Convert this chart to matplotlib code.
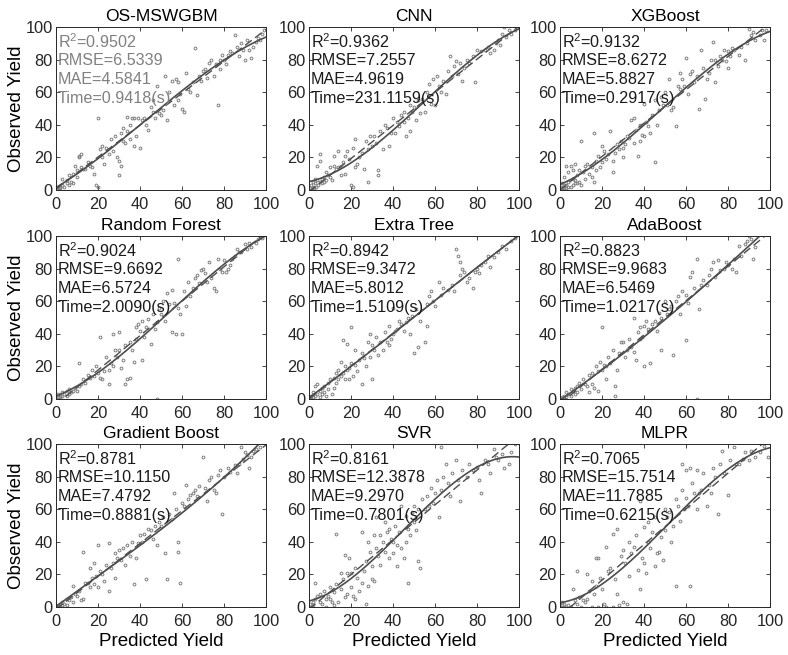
import numpy as np
import matplotlib
matplotlib.use("Agg")
import matplotlib.pyplot as plt

## Шрифты и общие настройки
plt.rcParams['font.family'] = ['Liberation Sans', 'DejaVu Sans']
plt.rcParams['mathtext.fontset'] = 'custom'
plt.rcParams['mathtext.rm'] = 'Liberation Sans'
plt.rcParams['mathtext.it'] = 'Liberation Sans:italic'
plt.rcParams['xtick.direction'] = 'in'
plt.rcParams['ytick.direction'] = 'in'

# model names (panel order)
models = ["OS-MSWGBM", "CNN", "XGBoost",
          "Random Forest", "Extra Tree", "AdaBoost",
          "Gradient Boost", "SVR", "MLPR"]

# metrics shown in each panel
r2 = ["0.9502", "0.9362", "0.9132", "0.9024", "0.8942", "0.8823", "0.8781", "0.8161", "0.7065"]
rmse = ["6.5339", "7.2557", "8.6272", "9.6692", "9.3472", "9.9683", "10.1150", "12.3878", "15.7514"]
mae = ["4.5841", "4.9619", "5.8827", "6.5724", "5.8012", "6.5469", "7.4792", "9.2970", "11.7885"]
times = ["0.9418", "231.1159", "0.2917", "2.0090", "1.5109", "1.0217", "0.8881", "0.7801", "0.6215"]

# (predicted, observed) points
pts_os = [(0.5,0.5),(1,1),(1.5,0),(2,2),(2,1),(3,3),(3,7),(4,2),(5,4),(5,6),(6,3),(6,9),(7,5),(8,10),(8,4),
          (9,15),(10,12),(10,8),(11,21),(11,20),(12,14),(12,22),(13,13),(14,13),(15,17),(16,15),(17,14),(18,10),
          (19,3),(20,2),(20,44),(21,25),(22,20),(22,27),(23,16),(24,26),(25,22),(26,31),(27,24),(28,33),(29,20),
          (30,18),(30,9),(31,15),(31,35),(32,38),(32,30),(33,29),(34,45),(34,36),(35,40),(35,31),(36,44),(37,27),
          (37,44),(38,33),(39,44),(40,26),(41,43),(42,44),(43,40),(44,37),(45,51),(46,55),(46,48),(47,44),(48,64),
          (49,47),(50,46),(51,49),(52,70),(53,43),(54,60),(55,67),(56,52),(57,68),(58,55),(58,66),(59,59),(60,50),
          (61,48),(62,72),(63,62),(64,60),(65,66),(66,87),(67,58),(68,70),(69,67),(70,73),(71,74),(72,69),(73,78),
          (74,80),(75,70),(76,77),(77,52),(78,74),(78,80),(79,83),(80,80),(81,77),(82,83),(83,85),(84,84),(85,95),
          (86,88),(87,82),(88,90),(89,86),(90,80),(91,92),(92,86),(93,81),(94,88),(95,91),(96,93),(97,92),(98,96),(99,98)]
pts_cnn = [(0.5,1),(1,3),(1,0),(1.5,1),(2,5),(2,2),(2.5,1),(3,4),(3,7),(3.5,2),(4,15),(4,6),(4.5,3),(5,22),(5,18),(5,5),
           (6,7),(6,4),(7,5),(7,8),(8,11),(8,6),(9,9),(10,14),(10,8),(11,6),(12,21),(12,15),(13,13),(14,14),(14,24),(15,9),
           (15,15),(16,17),(17,10),(17,21),(18,24),(19,19),(20,3),(21,2),(21,26),(22,31),(22,14),(23,16),(24,20),(25,23),
           (26,13),(27,30),(28,5),(28,25),(29,33),(30,27),(31,33),(32,29),(33,12),(33,9),(34,36),(35,25),(36,40),(37,38),
           (38,27),(39,35),(40,44),(41,35),(42,42),(43,39),(44,46),(45,42),(45,48),(46,33),(47,44),(48,52),(48,36),(49,48),
           (50,51),(51,43),(52,55),(53,47),(54,56),(55,48),(56,60),(57,65),(58,53),(59,68),(60,52),(61,70),(62,64),(63,60),
           (64,67),(65,59),(66,73),(67,82),(68,70),(69,76),(70,79),(71,71),(72,78),(73,67),(74,75),(75,80),(76,78),(78,82),
           (79,66),(80,86),(82,85),(84,86),(85,88),(86,84),(88,86),(89,90),(90,92),(91,89),(92,96),(93,100),(94,94),(95,98),
           (96,96),(98,98)]
pts_xgb = [(0.5,0),(1,2),(1,4),(1,0),(1.5,1),(2,1),(2,8),(2,3),(3,3),(3,15),(3,1),(4,5),(4,11),(4,2),(5,15),(5,2),(6,7),
           (6,12),(6,3),(7,16),(7,4),(7,6),(8,9),(8,4),(9,12),(9,5),(10,30),(10,3),(11,11),(12,15),(12,7),(13,16),(14,10),
           (15,8),(15,14),(16,35),(16,5),(17,18),(17,12),(18,21),(19,14),(20,27),(20,17),(21,24),(22,19),(23,22),(24,36),
           (25,11),(25,18),(26,23),(27,28),(28,25),(29,30),(30,20),(30,26),(31,28),(32,33),(33,32),(34,43),(35,44),(35,29),
           (36,37),(37,21),(38,30),(38,40),(39,34),(40,53),(40,33),(41,42),(42,39),(43,35),(44,46),(45,55),(45,17),(46,40),
           (47,49),(48,57),(49,52),(50,60),(51,52),(52,68),(53,49),(54,51),(55,39),(56,64),(57,62),(57,72),(58,68),(59,64),
           (60,81),(61,59),(62,71),(63,73),(64,66),(65,70),(66,50),(67,86),(68,75),(69,56),(70,68),(71,72),(72,80),(73,91),
           (74,80),(74,66),(75,76),(76,82),(77,80),(78,86),(79,79),(80,85),(80,75),(81,82),(82,87),(83,86),(85,83),(86,88),
           (88,80),(89,90),(90,99),(91,95),(92,97),(93,92),(95,95),(96,98),(97,92),(98,98)]
pts_rf = [(0.5,0),(1,1),(1,3),(2,2),(2,1),(3,4),(3,2),(4,3),(5,5),(5,2),(6,6),(6,3),(7,4),(8,5),(9,7),(10,5),(11,22),(11,8),
          (12,9),(13,12),(14,10),(15,15),(16,13),(17,18),(18,14),(19,20),(20,16),(21,38),(21,13),(22,12),(23,17),(24,26),
          (25,18),(25,9),(26,22),(27,20),(27,40),(28,30),(29,26),(30,41),(30,30),(31,19),(32,24),(33,9),(33,33),(34,12),
          (35,13),(35,35),(36,30),(37,23),(38,44),(38,37),(39,46),(40,42),(41,24),(41,48),(42,38),(43,44),(44,49),(45,34),
          (46,52),(47,43),(48,0),(48,47),(49,56),(50,52),(51,60),(52,48),(53,65),(54,58),(55,67),(55,41),(56,59),(57,40),
          (58,86),(58,56),(59,52),(60,40),(61,66),(62,57),(63,72),(64,63),(65,68),(66,74),(67,76),(68,71),(69,79),(70,80),
          (71,77),(72,72),(73,84),(74,74),(75,68),(76,66),(77,86),(78,80),(79,78),(80,85),(81,78),(82,80),(83,82),(84,86),
          (85,88),(86,92),(87,90),(88,90),(90,95),(91,92),(92,96),(93,93),(95,96),(96,98),(98,99)]
pts_et = [(0.5,0),(1,2),(1,0),(2,1),(2,4),(3,2),(3,8),(4,3),(4,9),(5,5),(5,1),(6,7),(6,3),(7,8),(7,4),(8,2),(9,10),(9,6),
          (10,12),(11,3),(12,13),(12,7),(13,16),(13,10),(14,18),(14,12),(15,23),(15,14),(16,36),(16,16),(17,20),(17,12),
          (18,34),(18,18),(19,19),(19,12),(20,44),(20,22),(21,14),(22,30),(22,21),(23,17),(24,24),(25,28),(25,9),(26,25),
          (27,20),(28,35),(29,40),(29,26),(30,12),(30,33),(31,30),(32,38),(33,27),(34,35),(35,30),(36,41),(37,35),(38,45),
          (38,33),(39,37),(40,56),(40,40),(41,42),(42,43),(43,48),(44,46),(45,42),(46,47),(47,50),(48,40),(49,51),(50,28),
          (51,55),(52,32),(53,48),(55,35),(56,45),(56,58),(57,63),(58,66),(59,60),(60,57),(62,72),(63,64),(64,68),(66,67),
          (68,70),(69,66),(70,92),(71,88),(72,84),(72,76),(73,80),(74,78),(75,72),(76,74),(78,68),(79,78),(80,80),(81,77),
          (82,82),(84,84),(85,88),(86,81),(88,87),(90,90),(92,94),(94,92),(96,97),(98,99)]
pts_ada = [(0.5,0),(1,1),(1,0),(2,2),(2,0),(3,1),(3,4),(4,3),(5,2),(5,6),(6,5),(7,7),(7,3),(8,8),(8,4),(9,10),(10,6),(11,12),
           (12,9),(13,8),(14,15),(14,4),(15,16),(15,9),(16,7),(17,20),(18,5),(18,17),(19,23),(20,44),(20,18),(21,21),(22,20),
           (22,12),(23,26),(24,22),(25,30),(26,2),(26,8),(27,18),(28,28),(29,35),(30,35),(31,26),(32,30),(33,37),(34,32),
           (35,50),(35,29),(36,24),(37,41),(38,44),(38,37),(39,38),(40,20),(40,45),(41,48),(42,43),(43,22),(44,46),(45,48),
           (46,42),(47,53),(48,30),(48,50),(50,60),(51,52),(52,55),(53,57),(54,27),(55,60),(56,63),(57,52),(58,66),(60,36),
           (60,64),(61,59),(62,75),(63,78),(64,68),(65,0),(65,86),(66,55),(67,70),(68,73),(70,70),(71,76),(72,80),(73,84),
           (74,75),(75,85),(76,79),(78,80),(79,84),(80,82),(82,80),(83,86),(84,78),(85,94),(86,88),(88,95),(89,97),(90,100),
           (91,98),(92,86),(93,93)]
pts_gb = [(0.5,0),(1,1),(1,0),(2,2),(2,0),(3,1),(3,3),(4,2),(5,1),(5,5),(6,4),(7,6),(8,13),(8,3),(9,8),(10,7),(11,10),(12,4),
          (13,34),(13,5),(14,15),(15,15),(16,24),(16,12),(17,18),(18,27),(18,14),(19,19),(20,38),(20,12),(21,22),(22,20),
          (23,16),(24,26),(25,39),(25,10),(26,24),(27,27),(28,33),(28,18),(29,30),(30,35),(31,29),(32,36),(33,26),(34,38),
          (35,31),(36,40),(37,14),(38,30),(39,39),(40,44),(41,40),(42,45),(43,17),(44,48),(45,47),(46,42),(47,50),(48,38),
          (49,52),(50,50),(51,55),(52,33),(53,17),(54,57),(55,54),(56,70),(57,60),(58,40),(58,34),(59,15),(60,64),(61,62),
          (62,75),(63,66),(64,69),(65,70),(66,72),(67,68),(68,74),(70,92),(71,73),(72,65),(73,78),(74,80),(75,72),(76,70),
          (77,81),(78,84),(79,57),(80,80),(82,85),(83,83),(85,87),(86,82),(87,88),(88,98),(89,91),(90,95),(91,93),(92,85),
          (93,92),(94,96),(95,97),(97,98)]
pts_svr = [(0.5,2),(1,0),(2,3),(2,1),(3,15),(3,5),(4,7),(5,8),(5,3),(6,2),(7,10),(8,0),(8,5),(9,7),(10,5),(10,12),(11,3),
           (12,1),(12,9),(13,45),(13,14),(14,3),(15,21),(15,11),(16,17),(17,32),(17,6),(18,8),(18,21),(19,30),(20,21),(20,12),
           (21,7),(22,5),(22,24),(23,18),(24,10),(25,46),(25,15),(26,22),(27,2),(27,28),(28,40),(28,13),(29,34),(30,17),
           (30,25),(31,16),(31,44),(32,55),(32,36),(33,31),(34,44),(34,26),(35,40),(36,52),(36,34),(37,46),(38,48),(38,30),
           (39,42),(40,40),(40,33),(41,50),(42,25),(42,38),(43,46),(44,62),(44,36),(45,30),(46,40),(46,56),(47,15),(47,48),
           (48,78),(48,44),(49,58),(50,62),(50,52),(51,47),(52,28),(52,60),(53,24),(54,66),(55,60),(56,68),(57,62),(58,73),
           (59,64),(60,70),(61,78),(62,55),(63,98),(63,72),(64,80),(65,88),(66,76),(67,68),(68,82),(70,90),(71,78),(72,65),
           (73,84),(75,80),(76,88),(78,84),(80,86),(81,78),(82,70),(84,90),(85,88),(86,82),(88,97),(89,92),(90,90),(92,94),
           (93,85),(95,88),(96,95),(98,100)]
pts_mlpr = [(0.5,0),(1,1),(1,3),(2,0),(2,2),(3,0),(4,1),(5,0),(6,11),(7,4),(8,22),(8,2),(9,6),(10,0),(11,4),(12,3),(13,20),
            (13,5),(14,10),(15,0),(15,16),(16,8),(17,30),(17,13),(18,0),(18,30),(19,18),(20,11),(21,2),(22,37),(22,0),(23,22),
            (24,24),(25,45),(25,0),(26,17),(27,48),(27,8),(28,1),(29,31),(30,35),(30,3),(31,27),(32,2),(33,40),(33,19),(34,33),
            (35,37),(36,44),(37,23),(38,65),(38,11),(39,30),(40,49),(40,27),(41,21),(42,52),(42,40),(43,36),(44,46),(45,25),
            (45,55),(46,33),(47,34),(48,43),(49,29),(50,60),(50,47),(51,55),(52,58),(53,40),(54,50),(55,13),(55,66),(56,62),
            (57,53),(58,88),(58,72),(59,60),(60,84),(60,67),(61,62),(62,13),(62,85),(63,76),(64,70),(65,84),(65,60),(66,70),
            (67,72),(68,82),(70,62),(71,75),(72,70),(73,85),(74,80),(75,57),(76,88),(77,96),(78,82),(80,69),(81,90),(83,98),
            (84,88),(85,88),(87,91),(88,95),(90,90),(91,96),(93,92),(95,95),(97,99),(99,92)]

all_pts = [pts_os, pts_cnn, pts_xgb, pts_rf, pts_et, pts_ada, pts_gb, pts_svr, pts_mlpr]

# axes positions in pixels (left, top) for a 788x655 figure
W, H = 788, 655
col_left = [56, 309, 560]
row_top = [27, 236, 444]
ax_w, ax_h = 210, 163

fig = plt.figure(figsize=(W / 100, H / 100), dpi=100)
for i, name in enumerate(models):
    r, c = divmod(i, 3)
    ax = fig.add_axes([col_left[c] / W, (H - row_top[r] - ax_h) / H, ax_w / W, ax_h / H])
    pts = np.array(all_pts[i], dtype=float)
    x, y = pts[:, 0], pts[:, 1]
    # точки
    ax.plot(x, y, 'o', ms=2.0, mfc='none', mec='#7f7f7f', mew=0.7)
    # fit lines: cubic (solid) and linear (dashed)
    xp = np.linspace(0, 100, 200)
    ax.plot(xp, np.poly1d(np.polyfit(x, y, 3))(xp), '-', color='#4d4d4d', lw=1.2)
    ax.plot(xp, np.poly1d(np.polyfit(x, y, 1))(xp), '--', color='#4d4d4d', lw=1.0, dashes=(6, 3))
    ax.set_xlim(0, 100)
    ax.set_ylim(0, 100)
    ax.set_xticks(range(0, 101, 20))
    ax.set_yticks(range(0, 101, 20))
    ax.tick_params(labelsize=11.8, top=True, right=True, length=3, width=0.6, colors='#262626')
    ax.tick_params(axis='x', pad=5)
    ax.tick_params(axis='y', pad=2.5)
    for s in ax.spines.values():
        s.set_color('#262626')
        s.set_linewidth(0.7)
    ax.set_title(name, fontsize=12.5, pad=4)
    # подписи метрик
    tc = '#808080' if i == 0 else '#1a1a1a'
    lines = ['R$^{2}$=' + r2[i], 'RMSE=' + rmse[i], 'MAE=' + mae[i], 'Time=' + times[i] + '(s)']
    for k, t in enumerate(lines):
        ax.text(0.8, 91 - 11.6 * k, t, fontsize=11.6, color=tc, va='center', ha='left')
    if c == 0:
        ax.set_ylabel('Observed Yield', fontsize=13.5)
        ax.yaxis.set_label_coords(-0.15, 0.5)
    if r == 2:
        ax.set_xlabel('Predicted Yield', fontsize=13.5, labelpad=3)

plt.savefig('out.png', dpi=100)
